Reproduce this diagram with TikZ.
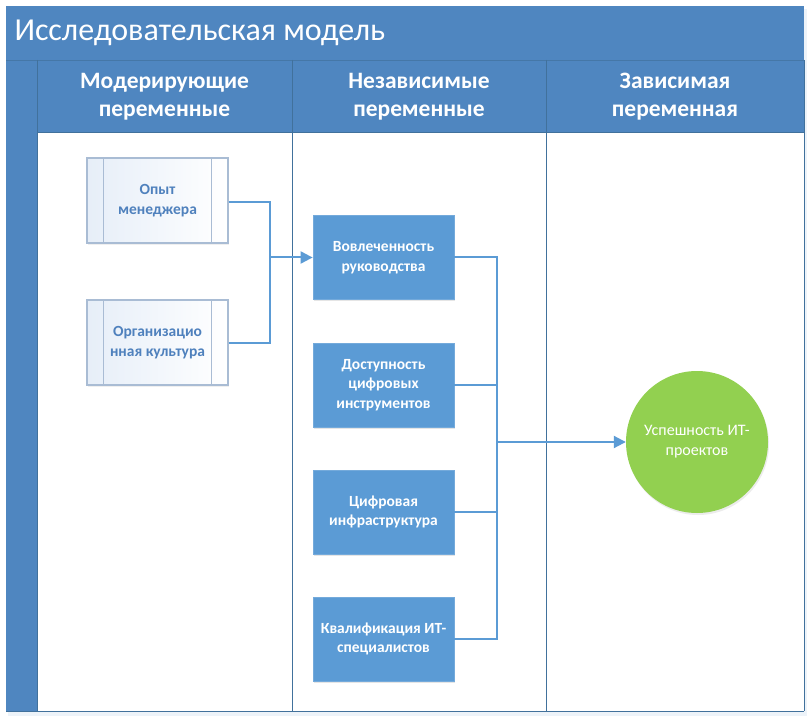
\documentclass[tikz,border=0pt]{standalone}
\usepackage{fontspec}
\setmainfont{Carlito}
\usetikzlibrary{arrows.meta,shadows}
\definecolor{band}{HTML}{4F86C0}
\definecolor{laneline}{HTML}{41719C}
\definecolor{boxblue}{HTML}{5B9BD5}
\definecolor{conn}{HTML}{5B9BD5}
\definecolor{okgreen}{HTML}{92D050}
\definecolor{modtext}{HTML}{4F81BD}
\definecolor{modborder}{HTML}{A9BCD4}
\definecolor{modfill}{HTML}{E6EEF8}
\tikzset{
  headtxt/.style={text=white, font=\fontsize{23.5}{28}\selectfont\bfseries, align=center},
  modbox/.style={draw=modborder, line width=1.2pt, left color=modfill, right color=white,
    minimum width=141pt, minimum height=85pt, inner sep=0pt, align=center,
    text=modtext, font=\fontsize{15.5}{19.5}\selectfont\bfseries,
    drop shadow={shadow xshift=1pt, shadow yshift=-2pt, opacity=0.12}},
  indbox/.style={fill=boxblue, draw=boxblue!85!white, line width=0.8pt,
    minimum width=141pt, minimum height=84pt, inner sep=0pt, align=center,
    text=white, font=\fontsize{15.5}{19.5}\selectfont\bfseries,
    drop shadow={shadow xshift=1pt, shadow yshift=-2pt, opacity=0.2}},
  depcirc/.style={circle, fill=okgreen, minimum size=142pt, inner sep=0pt, align=center,
    text=white, font=\fontsize{16}{20}\selectfont,
    drop shadow={shadow xshift=1pt, shadow yshift=-2pt, opacity=0.15}},
  link/.style={draw=conn, line width=2pt},
  arr/.style={link, -{Triangle[length=12pt,width=12pt]}},
}
\begin{document}
\begin{tikzpicture}[x=1pt,y=-1pt]
\useasboundingbox (0,0) rectangle (809,722);
% outer shadow glow
\fill[band!10] (8,9) rectangle (807,716);
% title band
\fill[band] (6,6) rectangle (804,60);
\node[anchor=west, text=white, font=\fontsize{32}{36}\selectfont] (title) at (11,33) {Исследовательская модель};
% header row
\fill[band] (6,60) rectangle (804,133);
\draw[laneline!70!band, line width=0.8pt] (6,60) -- (804,60);
% left strip
\fill[band] (6,133) rectangle (37,711);
% body
\fill[white] (37,133) rectangle (804,711);
% lane lines
\draw[laneline, line width=1pt] (37,60) -- (37,711);
\draw[laneline, line width=1pt] (292,60) -- (292,711);
\draw[laneline, line width=1pt] (546,60) -- (546,711);
\draw[laneline, line width=1pt] (804,60) -- (804,711);
\draw[laneline, line width=1pt] (37,133) -- (804,133);
\draw[laneline, line width=1pt] (6,711) -- (804,711);
% header texts
\node[headtxt] (h1) at (164.5,97) {Модерирующие\\переменные};
\node[headtxt] (h2) at (419,97) {Независимые\\переменные};
\node[headtxt] (h3) at (675,97) {Зависимая\\переменная};
% moderating boxes
\node[modbox] (opyt) at (157.5,200.5) {Опыт\\менеджера};
\node[modbox] (org) at (157.5,342.5) {Организацио\\нная культура};
\foreach \n in {opyt,org}{
  \draw[modborder, line width=1pt] ([xshift=17pt]\n.north west) -- ([xshift=17pt]\n.south west);
  \draw[modborder, line width=1pt] ([xshift=-17pt]\n.north east) -- ([xshift=-17pt]\n.south east);
}
% independent boxes
\node[indbox] (vov) at (383.5,257.5) {Вовлеченность\\руководства};
\node[indbox] (dost) at (383.5,385) {Доступность\\цифровых\\инструментов};
\node[indbox] (cifr) at (383.5,512) {Цифровая\\инфраструктура};
\node[indbox] (kval) at (383.5,639) {Квалификация ИТ-\\специалистов};
% dependent
\node[depcirc] (succ) at (697,442) {Успешность ИТ-\\проектов};
% connectors
\coordinate (j1) at (270,257.5);
\coordinate (j2) at (497,442);
\draw[link] ([yshift=-1.5pt]opyt.east) -| (j1);
\draw[link] (org.east) -| (j1);
\draw[arr] (j1) -- (vov.west);
\draw[link] (vov.east) -| (j2);
\draw[link] (dost.east) -| (j2);
\draw[link] (cifr.east) -| (j2);
\draw[link] (kval.east) -| (j2);
\draw[arr] (j2) -- (succ.west);
\end{tikzpicture}
\end{document}
